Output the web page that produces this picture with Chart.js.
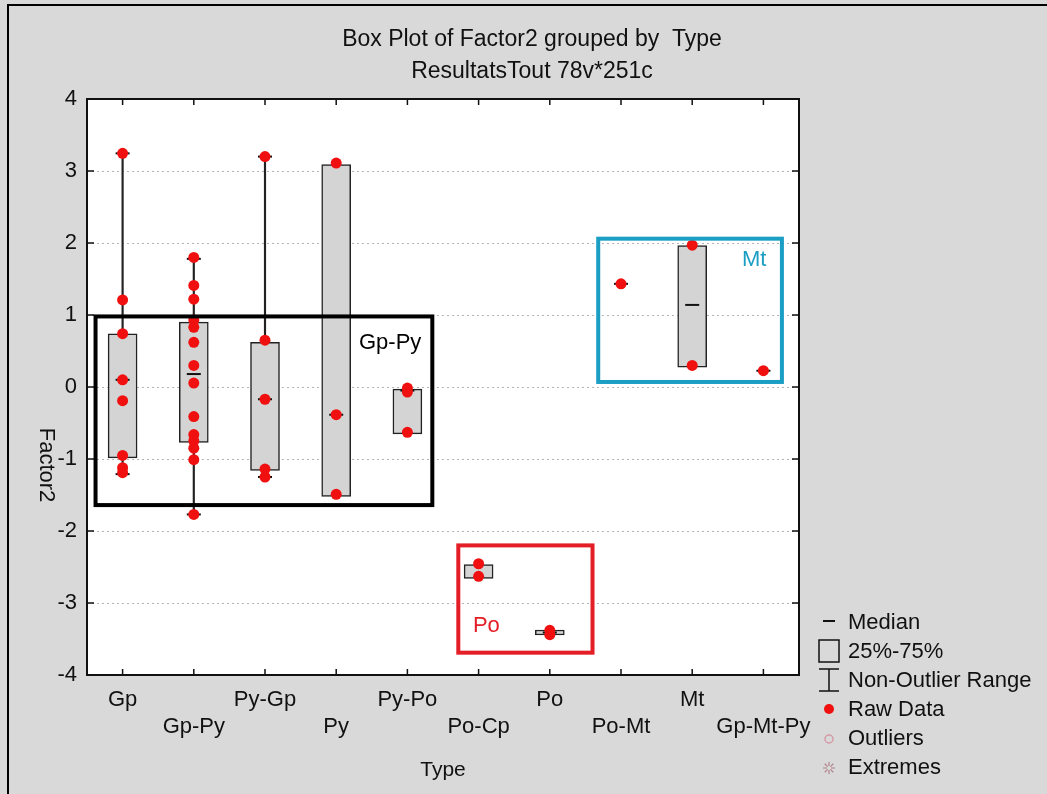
<!DOCTYPE html>
<html>
<head>
<meta charset="utf-8">
<title>Box Plot of Factor2 grouped by Type</title>
<script src="https://cdn.jsdelivr.net/npm/chart.js@4.4.0/dist/chart.umd.min.js"></script>
<style>
    html, body { margin: 0; padding: 0; background: #d9d9d9; }
    #myChart { display: block; }
</style>
</head>
<body>
<canvas id="myChart" width="1047" height="794"></canvas>
<script>
const titleLines = ['Box Plot of Factor2 grouped by  Type', 'ResultatsTout 78v*251c'];
const yTitle = 'Factor2';
const xTitle = 'Type';

const categories = ['Gp', 'Gp-Py', 'Py-Gp', 'Py', 'Py-Po', 'Po-Cp', 'Po', 'Po-Mt', 'Mt', 'Gp-Mt-Py'];

// 25% / 75% box edges, median and non-outlier range per type
const q1 = [-0.985, -0.77, -1.16, -1.52, -0.65, -2.66, -3.445, null, 0.277, null];
const q3 = [0.74, 0.90, 0.62, 3.09, -0.03, -2.465, -3.375, null, 1.965, null];
const medians = [0.10, 0.18, -0.17, -0.385, -0.05, null, -3.41, 1.433, 1.14, 0.226];
const whiskerLow = [-1.21, -1.77, -1.25, null, null, null, null, null, null, null];
const whiskerHigh = [3.245, 1.78, 3.20, null, null, null, null, null, null, null];

// raw Factor2 scores per type
const rawValues = [
    [3.245, 1.21, 0.74, 0.10, -0.19, -0.95, -1.12, -1.19],
    [1.80, 1.41, 1.22, 0.93, 0.83, 0.62, 0.30, 0.055, -0.41, -0.66, -0.75, -0.85, -1.01, -1.77],
    [3.20, 0.65, -0.17, -1.14, -1.25],
    [3.11, -0.385, -1.49],
    [-0.015, -0.07, -0.63],
    [-2.455, -2.63],
    [-3.38, -3.44],
    [1.433],
    [1.97, 0.30],
    [0.226]
];

const yMin = -4;
const yMax = 4;
const yStep = 1;

const legendLabels = ['Median', '25%-75%', 'Non-Outlier Range', 'Raw Data', 'Outliers', 'Extremes'];

// highlighted groups, extents in axis units (category index / Factor2)
const groupBoxes = [
    { label: 'Gp-Py', color: '#000000', x0: -0.38, x1: 4.35, y0: 0.98, y1: -1.64, tx: 3.32, ty: 0.61 },
    { label: 'Po', color: '#e41e26', x0: 4.715, x1: 6.60, y0: -2.20, y1: -3.69, tx: 4.92, ty: -3.32 },
    { label: 'Mt', color: '#1a9ec4', x0: 6.68, x1: 9.26, y0: 2.06, y1: 0.07, tx: 8.70, ty: 1.77 }
];

const FONT = '"Liberation Sans", Arial, sans-serif';

const boxPlotDecor = {
    id: 'boxPlotDecor',
    beforeDraw(chart) {
        const { ctx, chartArea: a, width, height } = chart;
        ctx.save();
        ctx.fillStyle = '#d9d9d9';
        ctx.fillRect(0, 0, width, height);
        ctx.fillStyle = '#ffffff';
        ctx.fillRect(a.left, a.top, a.right - a.left, a.bottom - a.top);

        ctx.strokeStyle = '#000';
        ctx.lineWidth = 2;
        ctx.beginPath();
        ctx.moveTo(8, height);
        ctx.lineTo(8, 5);
        ctx.lineTo(width, 5);
        ctx.stroke();

        ctx.fillStyle = '#111';
        ctx.font = '23px ' + FONT;
        ctx.textAlign = 'center';
        ctx.textBaseline = 'middle';
        titleLines.forEach((t, i) => ctx.fillText(t, 532, 40 + i * 32));

        ctx.translate(46, 465);
        ctx.rotate(Math.PI / 2);
        ctx.font = '22px ' + FONT;
        ctx.fillText(yTitle, 0, 0);
        ctx.restore();
    },
    beforeDatasetsDraw(chart) {
        const { ctx, chartArea: a, scales: { x, y } } = chart;
        ctx.save();
        ctx.strokeStyle = '#111';
        ctx.lineWidth = 2;
        ctx.strokeRect(a.left, a.top, a.right - a.left, a.bottom - a.top);
        // tick marks point inwards on all four sides
        ctx.lineWidth = 1.5;
        ctx.beginPath();
        y.ticks.forEach(t => {
            const py = y.getPixelForValue(t.value);
            ctx.moveTo(a.left, py); ctx.lineTo(a.left + 7, py);
            ctx.moveTo(a.right, py); ctx.lineTo(a.right - 7, py);
        });
        categories.forEach((c, i) => {
            const px = x.getPixelForValue(i);
            ctx.moveTo(px, a.bottom); ctx.lineTo(px, a.bottom - 6);
            ctx.moveTo(px, a.top); ctx.lineTo(px, a.top + 6);
        });
        ctx.stroke();
        ctx.restore();
    },
    afterDatasetsDraw(chart) {
        const { ctx, scales: { x, y } } = chart;
        ctx.save();
        ctx.lineWidth = 4;
        ctx.font = '22px ' + FONT;
        ctx.textAlign = 'left';
        ctx.textBaseline = 'middle';
        groupBoxes.forEach(g => {
            const left = x.getPixelForValue(g.x0);
            const right = x.getPixelForValue(g.x1);
            const top = y.getPixelForValue(g.y0);
            const bottom = y.getPixelForValue(g.y1);
            ctx.strokeStyle = g.color;
            ctx.strokeRect(left, top, right - left, bottom - top);
            ctx.fillStyle = g.color;
            ctx.fillText(g.label, x.getPixelForValue(g.tx), y.getPixelForValue(g.ty));
        });
        ctx.restore();
    },
    afterDraw(chart) {
        const ctx = chart.ctx;
        const sx = 829;
        const rows = [623, 652, 681, 710, 739, 768];
        ctx.save();
        ctx.font = '22px ' + FONT;
        ctx.fillStyle = '#111';
        ctx.textAlign = 'left';
        ctx.textBaseline = 'middle';
        legendLabels.forEach((t, i) => ctx.fillText(t, 848, rows[i]));

        ctx.strokeStyle = '#111';
        ctx.lineWidth = 2;
        ctx.beginPath();
        ctx.moveTo(sx - 6, 621); ctx.lineTo(sx + 6, 621);
        ctx.stroke();
        ctx.lineWidth = 1.5;
        ctx.strokeRect(sx - 10, 640, 20, 22);
        ctx.beginPath();
        ctx.moveTo(sx - 10, 669); ctx.lineTo(sx + 10, 669);
        ctx.moveTo(sx, 669); ctx.lineTo(sx, 691);
        ctx.moveTo(sx - 10, 691); ctx.lineTo(sx + 10, 691);
        ctx.stroke();

        ctx.fillStyle = '#f01010';
        ctx.beginPath();
        ctx.arc(sx, 709, 5, 0, Math.PI * 2);
        ctx.fill();

        ctx.strokeStyle = '#d59aa6';
        ctx.beginPath();
        ctx.arc(sx, 739, 4, 0, Math.PI * 2);
        ctx.stroke();

        ctx.strokeStyle = '#b3808a';
        ctx.lineWidth = 1.2;
        ctx.beginPath();
        for (let k = 0; k < 4; k++) {
            const ang = k * Math.PI / 4;
            ctx.moveTo(sx + Math.cos(ang) * 2, 768 + Math.sin(ang) * 2);
            ctx.lineTo(sx + Math.cos(ang) * 6, 768 + Math.sin(ang) * 6);
            ctx.moveTo(sx - Math.cos(ang) * 2, 768 - Math.sin(ang) * 2);
            ctx.lineTo(sx - Math.cos(ang) * 6, 768 - Math.sin(ang) * 6);
        }
        ctx.stroke();
        ctx.restore();
    }
};

document.addEventListener('DOMContentLoaded', function() {
    const ctx = document.getElementById('myChart').getContext('2d');

    const boxes = categories.map((c, i) => q1[i] === null ? null : [q1[i], q3[i]]);
    const whiskers = categories.map((c, i) => whiskerLow[i] === null ? null : [whiskerLow[i], whiskerHigh[i]]);

    const medianPoints = [];
    medians.forEach((m, i) => {
        if (m !== null) medianPoints.push({ x: categories[i], y: m });
    });
    const capPoints = [];
    categories.forEach((c, i) => {
        if (whiskerLow[i] !== null) {
            capPoints.push({ x: c, y: whiskerLow[i] });
            capPoints.push({ x: c, y: whiskerHigh[i] });
        }
    });
    const rawPoints = [];
    rawValues.forEach((vals, i) => {
        vals.forEach(v => rawPoints.push({ x: categories[i], y: v }));
    });

    const myChart = new Chart(ctx, {
        type: 'bar',
        data: {
            labels: categories,
            datasets: [
                {
                    label: 'Raw Data',
                    type: 'line',
                    data: rawPoints,
                    showLine: false,
                    pointRadius: 5.5,
                    pointBackgroundColor: '#f01010',
                    pointBorderColor: '#f01010',
                    pointBorderWidth: 0,
                    order: 0
                },
                {
                    label: 'Median',
                    type: 'line',
                    data: medianPoints.concat(capPoints),
                    showLine: false,
                    pointStyle: 'line',
                    pointRadius: 7,
                    pointBorderColor: '#111',
                    pointBorderWidth: 2,
                    order: 1
                },
                {
                    label: '25%-75%',
                    data: boxes,
                    backgroundColor: '#d4d4d4',
                    borderColor: '#222',
                    borderWidth: 1.5,
                    borderSkipped: false,
                    barThickness: 29,
                    grouped: false,
                    order: 2
                },
                {
                    label: 'Non-Outlier Range',
                    data: whiskers,
                    backgroundColor: '#222',
                    borderWidth: 0,
                    barThickness: 1.5,
                    grouped: false,
                    order: 3
                }
            ]
        },
        options: {
            responsive: false,
            animation: false,
            events: [],
            layout: {
                padding: { left: 0, top: 99, right: 248, bottom: 0 }
            },
            plugins: {
                legend: { display: false },
                tooltip: { enabled: false },
                title: { display: false }
            },
            scales: {
                x: {
                    grid: { display: false, drawTicks: false },
                    border: { display: false },
                    ticks: {
                        autoSkip: false,
                        maxRotation: 0,
                        padding: 12,
                        color: '#111',
                        font: { family: FONT, size: 22, lineHeight: 1.2 },
                        // alternate labels drop to a second row
                        callback: function(value, index) {
                            return index % 2 ? ['', categories[index]] : categories[index];
                        }
                    },
                    title: {
                        display: true,
                        text: xTitle,
                        color: '#111',
                        font: { family: FONT, size: 21 },
                        padding: { top: 0, bottom: 11 }
                    },
                    afterFit: function(scale) { scale.height = 119; }
                },
                y: {
                    min: yMin,
                    max: yMax,
                    grid: { color: '#b4b4b4', lineWidth: 1, drawTicks: false },
                    border: { display: false, dash: [2, 3] },
                    ticks: {
                        stepSize: yStep,
                        padding: 10,
                        color: '#111',
                        font: { family: FONT, size: 22 }
                    },
                    afterFit: function(scale) { scale.width = 87; }
                }
            }
        },
        plugins: [boxPlotDecor]
    });
});
</script>
</body>
</html>
